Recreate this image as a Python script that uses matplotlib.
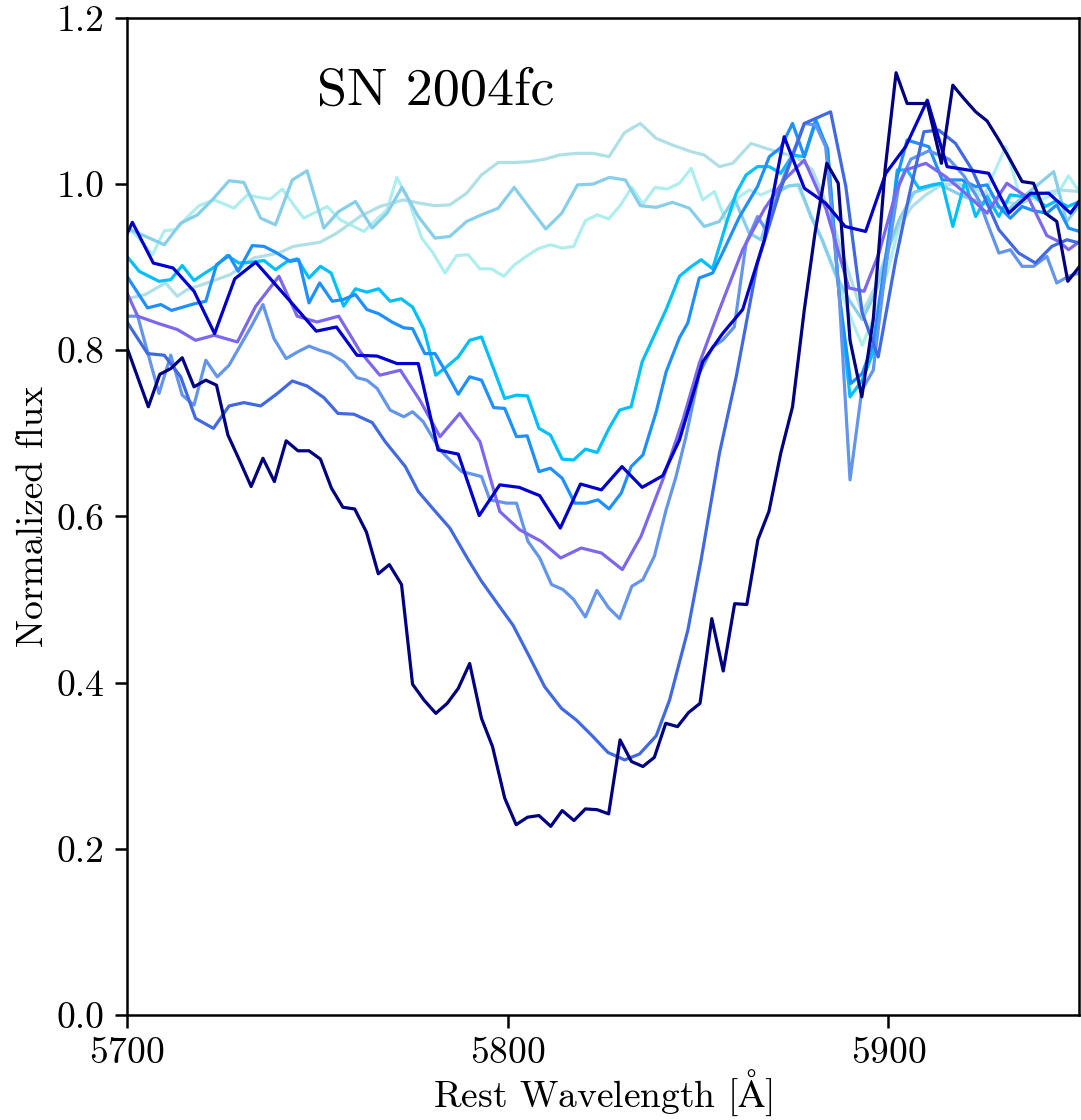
import matplotlib
matplotlib.use("Agg")
import matplotlib.pyplot as plt

plt.rcParams["font.family"] = ["cmr10", "DejaVu Serif"]
plt.rcParams["mathtext.fontset"] = "cm"
plt.rcParams["axes.formatter.use_mathtext"] = True
plt.rcParams["axes.unicode_minus"] = False

# Spectra around Na I D / He I 5876 for SN 2004fc, one array pair per epoch
wl_navy = [5700.0, 5705.6, 5708.6, 5711.5, 5714.5, 5717.6, 5720.7, 5723.5, 5726.5, 5729.6,
           5732.6, 5735.7, 5738.7, 5741.8, 5744.9, 5747.8, 5750.8, 5753.7, 5756.7, 5759.8,
           5762.9, 5766.0, 5768.9, 5772.1, 5775.0, 5778.0, 5781.1, 5784.1, 5787.0, 5790.0,
           5793.1, 5796.0, 5799.2, 5802.2, 5805.2, 5808.2, 5811.3, 5814.3, 5817.4, 5820.4,
           5823.5, 5826.5, 5829.5, 5832.5, 5835.5, 5838.5, 5841.5, 5844.6, 5847.5, 5850.5,
           5853.6, 5856.6, 5859.6, 5862.8, 5865.7, 5868.6, 5871.7, 5874.8, 5877.9, 5880.7,
           5883.8, 5886.8, 5889.9, 5893.0, 5896.0, 5899.1, 5902.0, 5904.9, 5907.5, 5910.2,
           5913.9, 5916.9, 5919.8, 5922.9, 5925.9, 5929.0, 5932.0, 5935.1, 5938.1, 5941.2,
           5944.2, 5947.1, 5950.2]
fx_navy = [0.803, 0.732, 0.771, 0.778, 0.791, 0.756, 0.764, 0.758, 0.698, 0.667,
           0.636, 0.670, 0.642, 0.691, 0.679, 0.679, 0.669, 0.634, 0.611, 0.609,
           0.581, 0.531, 0.542, 0.518, 0.398, 0.379, 0.363, 0.375, 0.393, 0.423,
           0.357, 0.323, 0.261, 0.229, 0.238, 0.240, 0.227, 0.246, 0.234, 0.248,
           0.247, 0.242, 0.331, 0.305, 0.299, 0.310, 0.351, 0.347, 0.364, 0.375,
           0.477, 0.414, 0.495, 0.494, 0.572, 0.606, 0.676, 0.732, 0.849, 0.941,
           1.025, 1.001, 0.812, 0.744, 0.837, 1.017, 1.134, 1.097, 1.097, 1.097,
           1.025, 1.119, 1.103, 1.087, 1.076, 1.053, 1.029, 1.003, 1.001, 0.965,
           0.955, 0.883, 0.901]

wl_mediumblue = [5700.0, 5701.4, 5706.9, 5712.1, 5717.6, 5723.0, 5728.3, 5733.8, 5739.0, 5744.2,
                 5749.7, 5755.0, 5760.4, 5765.7, 5770.9, 5776.5, 5781.7, 5787.0, 5792.5, 5797.9,
                 5803.0, 5808.4, 5813.8, 5819.1, 5824.6, 5830.0, 5835.3, 5840.7, 5845.1, 5851.2,
                 5856.4, 5861.7, 5867.4, 5872.6, 5877.9, 5883.5, 5888.6, 5894.0, 5899.3, 5904.5,
                 5910.2, 5915.4, 5920.8, 5926.3, 5931.6, 5937.3, 5942.1, 5947.8, 5950.2]
fx_mediumblue = [0.940, 0.954, 0.905, 0.899, 0.871, 0.820, 0.886, 0.906, 0.879, 0.852,
                 0.823, 0.828, 0.794, 0.793, 0.784, 0.784, 0.680, 0.675, 0.601, 0.638,
                 0.635, 0.625, 0.586, 0.639, 0.632, 0.660, 0.635, 0.649, 0.692, 0.786,
                 0.820, 0.849, 0.933, 1.057, 0.995, 0.977, 0.949, 0.943, 1.013, 1.045,
                 1.101, 1.021, 1.017, 1.013, 0.965, 0.989, 0.989, 0.965, 0.980]

wl_royalblue = [5700.0, 5705.4, 5709.8, 5714.1, 5718.0, 5722.7, 5726.8, 5730.7, 5735.1, 5739.5,
                5743.4, 5747.3, 5751.7, 5755.4, 5759.6, 5764.4, 5767.8, 5773.1, 5776.5, 5780.6,
                5784.8, 5789.6, 5793.1, 5797.3, 5801.4, 5805.6, 5809.7, 5814.1, 5818.0, 5822.4,
                5826.3, 5830.7, 5834.6, 5839.0, 5842.5, 5847.3, 5850.8, 5855.6, 5860.0, 5865.6,
                5871.3, 5877.9, 5884.8, 5888.8, 5893.1, 5897.3, 5901.9, 5905.6, 5909.3, 5913.2,
                5917.6, 5922.0, 5925.9, 5929.0, 5934.2, 5938.6, 5942.9, 5946.9, 5950.2]
fx_royalblue = [0.834, 0.796, 0.794, 0.768, 0.718, 0.706, 0.733, 0.737, 0.733, 0.748,
                0.763, 0.757, 0.743, 0.724, 0.723, 0.713, 0.690, 0.660, 0.630, 0.608,
                0.586, 0.548, 0.522, 0.495, 0.469, 0.432, 0.395, 0.369, 0.355, 0.335,
                0.316, 0.307, 0.314, 0.336, 0.379, 0.463, 0.548, 0.676, 0.768, 0.905,
                0.989, 1.073, 1.087, 0.997, 0.845, 0.792, 0.909, 0.990, 1.063, 1.065,
                1.049, 1.017, 0.977, 0.945, 0.917, 0.905, 0.925, 0.933, 0.929]

wl_cornflower = [5700.0, 5702.8, 5708.4, 5711.5, 5714.5, 5717.6, 5720.7, 5723.7, 5726.8, 5729.8,
                 5732.8, 5735.7, 5738.6, 5741.8, 5744.8, 5747.8, 5750.6, 5753.4, 5756.9, 5760.4,
                 5763.0, 5765.7, 5769.1, 5772.7, 5775.0, 5777.8, 5782.2, 5785.0, 5787.9, 5790.6,
                 5793.1, 5795.3, 5799.7, 5802.3, 5805.3, 5808.4, 5811.5, 5814.5, 5817.3, 5820.4,
                 5823.4, 5826.5, 5829.4, 5832.6, 5835.5, 5838.5, 5841.6, 5844.2, 5846.8, 5850.3,
                 5853.8, 5856.4, 5859.5, 5862.6, 5865.6, 5867.8, 5872.6, 5877.9, 5880.9, 5883.5,
                 5887.0, 5889.9, 5893.0, 5896.0, 5899.3, 5902.8, 5905.9, 5910.6, 5915.9, 5919.8,
                 5923.7, 5926.3, 5929.0, 5932.0, 5935.1, 5938.1, 5941.6, 5944.2, 5947.3, 5950.2]
fx_cornflower = [0.841, 0.841, 0.748, 0.794, 0.746, 0.734, 0.788, 0.768, 0.782, 0.806,
                 0.830, 0.855, 0.814, 0.790, 0.798, 0.805, 0.800, 0.796, 0.786, 0.767,
                 0.764, 0.754, 0.728, 0.720, 0.726, 0.714, 0.680, 0.667, 0.654, 0.651,
                 0.648, 0.620, 0.616, 0.616, 0.570, 0.550, 0.518, 0.512, 0.500, 0.479,
                 0.511, 0.490, 0.477, 0.516, 0.524, 0.552, 0.608, 0.648, 0.696, 0.772,
                 0.804, 0.812, 0.828, 0.929, 0.961, 0.945, 1.010, 1.073, 1.071, 1.045,
                 0.870, 0.644, 0.752, 0.776, 0.901, 1.001, 1.030, 1.040, 1.030, 1.010,
                 0.981, 0.949, 0.917, 0.921, 0.901, 0.901, 0.913, 0.881, 0.889, 0.893]

wl_slateblue = [5700.0, 5702.8, 5708.4, 5713.2, 5718.0, 5722.9, 5729.0, 5733.8, 5739.9, 5744.7,
                5749.9, 5755.6, 5761.3, 5766.4, 5771.8, 5776.9, 5782.2, 5787.4, 5792.7, 5797.9,
                5803.1, 5808.8, 5813.9, 5819.3, 5824.6, 5830.1, 5835.0, 5840.7, 5846.0, 5850.3,
                5855.6, 5861.7, 5867.4, 5872.6, 5877.9, 5883.6, 5889.6, 5893.6, 5897.5, 5901.9,
                5904.5, 5909.8, 5915.0, 5920.2, 5925.9, 5931.1, 5936.8, 5941.6, 5944.7, 5947.3,
                5950.2]
fx_slateblue = [0.869, 0.841, 0.832, 0.825, 0.812, 0.818, 0.810, 0.853, 0.889, 0.841,
                0.834, 0.841, 0.798, 0.770, 0.776, 0.740, 0.696, 0.724, 0.690, 0.606,
                0.584, 0.570, 0.550, 0.562, 0.556, 0.536, 0.576, 0.644, 0.716, 0.784,
                0.849, 0.921, 0.970, 1.005, 1.029, 0.970, 0.875, 0.871, 0.917, 0.989,
                1.017, 1.025, 1.009, 0.989, 0.965, 1.001, 0.983, 0.938, 0.931, 0.921,
                0.931]

wl_dodger = [5700.0, 5705.4, 5708.9, 5711.7, 5714.7, 5717.7, 5720.7, 5723.5, 5726.8, 5729.2,
             5732.9, 5736.0, 5739.0, 5742.9, 5745.1, 5747.8, 5750.6, 5753.9, 5756.7, 5760.0,
             5763.0, 5766.1, 5769.6, 5772.7, 5775.0, 5778.2, 5780.9, 5784.0, 5787.0, 5790.0,
             5793.1, 5796.3, 5799.2, 5802.3, 5805.1, 5808.2, 5811.2, 5814.3, 5817.6, 5820.6,
             5823.7, 5826.6, 5829.8, 5832.4, 5835.5, 5839.0, 5841.6, 5845.1, 5847.3, 5850.3,
             5853.8, 5856.4, 5860.8, 5865.6, 5868.7, 5871.7, 5874.8, 5877.9, 5880.9, 5884.0,
             5887.0, 5890.1, 5893.1, 5896.0, 5899.3, 5902.3, 5904.9, 5910.6, 5914.1, 5919.3,
             5922.9, 5925.9, 5929.0, 5932.0, 5935.1, 5938.1, 5941.6, 5944.2, 5947.3, 5950.2]
fx_dodger = [0.889, 0.851, 0.855, 0.848, 0.852, 0.856, 0.859, 0.903, 0.914, 0.895,
             0.926, 0.925, 0.918, 0.907, 0.909, 0.857, 0.881, 0.859, 0.861, 0.867,
             0.849, 0.844, 0.834, 0.827, 0.826, 0.796, 0.796, 0.772, 0.747, 0.768,
             0.764, 0.731, 0.730, 0.696, 0.697, 0.654, 0.658, 0.646, 0.616, 0.616,
             0.620, 0.609, 0.628, 0.660, 0.674, 0.726, 0.774, 0.815, 0.833, 0.887,
             0.893, 0.917, 0.960, 0.997, 1.033, 1.044, 1.073, 1.033, 1.075, 1.043,
             0.869, 0.760, 0.772, 0.808, 0.913, 1.009, 1.053, 1.045, 1.005, 1.005,
             0.997, 0.999, 0.973, 0.959, 0.973, 0.968, 0.965, 0.975, 0.947, 0.943]

wl_deepsky = [5700.0, 5703.2, 5708.4, 5711.5, 5714.5, 5717.6, 5720.5, 5723.3, 5726.3, 5729.4,
              5732.7, 5736.0, 5739.0, 5742.1, 5744.7, 5747.8, 5750.8, 5753.6, 5756.9, 5760.0,
              5763.0, 5766.1, 5769.1, 5772.0, 5775.0, 5778.0, 5781.1, 5783.9, 5787.0, 5790.0,
              5793.1, 5796.1, 5799.2, 5802.3, 5805.2, 5808.2, 5811.2, 5814.3, 5817.3, 5820.4,
              5823.5, 5826.6, 5829.4, 5832.4, 5835.3, 5838.5, 5841.6, 5845.1, 5847.7, 5850.8,
              5853.8, 5857.7, 5860.0, 5862.6, 5865.6, 5868.7, 5871.7, 5874.8, 5877.9, 5880.9,
              5884.0, 5887.0, 5889.9, 5893.1, 5896.2, 5899.3, 5902.3, 5904.9, 5908.0, 5911.5,
              5914.1, 5916.9, 5920.1, 5922.9, 5925.9, 5929.0, 5932.0, 5935.1, 5938.1, 5941.2,
              5944.2, 5947.1, 5950.2]
fx_deepsky = [0.913, 0.895, 0.883, 0.885, 0.902, 0.884, 0.893, 0.901, 0.914, 0.905,
              0.906, 0.908, 0.897, 0.907, 0.910, 0.887, 0.901, 0.893, 0.853, 0.874,
              0.870, 0.874, 0.859, 0.862, 0.852, 0.825, 0.770, 0.780, 0.792, 0.812,
              0.816, 0.780, 0.742, 0.746, 0.745, 0.706, 0.698, 0.669, 0.668, 0.681,
              0.677, 0.706, 0.728, 0.732, 0.786, 0.818, 0.849, 0.889, 0.899, 0.909,
              0.898, 0.957, 0.989, 1.011, 1.021, 1.021, 1.013, 1.035, 1.033, 1.078,
              1.041, 0.869, 0.744, 0.764, 0.800, 0.901, 1.017, 1.017, 0.995, 0.999,
              1.001, 0.949, 1.003, 0.961, 0.985, 0.961, 0.987, 0.985, 0.987, 0.973,
              0.980, 0.973, 0.979]

wl_skyblue = [5700.0, 5704.9, 5709.8, 5714.1, 5718.5, 5722.4, 5726.8, 5730.7, 5735.1, 5739.0,
              5743.4, 5747.3, 5751.7, 5755.6, 5760.0, 5764.4, 5768.3, 5772.2, 5776.5, 5780.9,
              5784.8, 5789.2, 5793.1, 5797.5, 5801.7, 5805.8, 5810.0, 5814.2, 5818.3, 5822.4,
              5826.7, 5830.9, 5834.8, 5839.0, 5843.3, 5847.7, 5851.6, 5855.6, 5859.5, 5863.4,
              5866.5, 5870.4, 5873.9, 5876.5, 5879.6, 5882.6, 5886.2, 5889.6, 5893.1, 5896.6,
              5900.1, 5902.8, 5906.7, 5913.2, 5919.8, 5926.3, 5931.6, 5936.8, 5943.4, 5946.8,
              5950.2]
fx_skyblue = [0.947, 0.937, 0.927, 0.953, 0.963, 0.981, 1.004, 1.002, 0.959, 0.951,
              1.005, 1.016, 0.947, 0.967, 0.979, 0.947, 0.965, 0.996, 0.961, 0.935,
              0.937, 0.955, 0.963, 0.971, 0.996, 0.971, 0.946, 0.965, 0.999, 1.000,
              1.008, 1.005, 0.974, 0.972, 0.978, 0.971, 0.949, 0.955, 0.983, 0.941,
              0.933, 0.989, 0.998, 0.999, 0.961, 0.933, 0.891, 0.861, 0.837, 0.869,
              0.925, 0.957, 0.990, 1.000, 0.985, 0.975, 0.970, 0.990, 1.015, 0.955,
              0.975]

wl_powder = [5700.0, 5704.8, 5710.1, 5713.2, 5715.8, 5721.0, 5727.1, 5733.2, 5739.8, 5743.7,
             5750.7, 5755.1, 5761.2, 5766.4, 5772.6, 5776.9, 5780.9, 5784.8, 5789.2, 5793.1,
             5797.5, 5801.8, 5805.8, 5809.7, 5813.6, 5818.0, 5822.4, 5826.6, 5830.7, 5834.8,
             5839.0, 5843.3, 5848.2, 5851.6, 5855.6, 5859.1, 5863.9, 5867.8, 5872.2, 5875.7,
             5880.0, 5882.6, 5886.2, 5889.6, 5893.1, 5896.6, 5900.1, 5902.8, 5906.2, 5909.8,
             5913.2, 5917.6, 5923.7, 5929.0, 5934.2, 5939.4, 5944.7, 5950.2]
fx_powder = [0.862, 0.867, 0.881, 0.865, 0.873, 0.881, 0.891, 0.911, 0.917, 0.925,
             0.930, 0.941, 0.961, 0.973, 0.981, 0.977, 0.974, 0.975, 0.989, 1.011,
             1.026, 1.026, 1.027, 1.030, 1.035, 1.037, 1.037, 1.033, 1.062, 1.073,
             1.055, 1.047, 1.039, 1.035, 1.021, 1.025, 1.049, 1.043, 1.037, 1.033,
             1.017, 0.989, 0.941, 0.893, 0.845, 0.877, 0.925, 0.949, 0.973, 0.987,
             0.997, 1.001, 0.993, 0.981, 0.975, 0.987, 0.993, 0.991]

wl_paleturq = [5700.0, 5702.3, 5706.7, 5709.8, 5712.8, 5715.8, 5718.9, 5722.9, 5728.1, 5731.6,
               5734.6, 5737.7, 5740.8, 5743.6, 5746.4, 5749.5, 5752.6, 5756.0, 5759.1, 5762.2,
               5765.2, 5768.3, 5770.9, 5773.9, 5777.4, 5780.4, 5783.5, 5786.6, 5789.6, 5792.7,
               5795.7, 5799.0, 5801.8, 5804.9, 5807.9, 5811.2, 5814.3, 5817.3, 5820.4, 5823.5,
               5826.5, 5829.5, 5832.6, 5835.5, 5838.7, 5841.9, 5845.1, 5848.2, 5851.2, 5854.3,
               5857.3, 5860.4, 5863.4, 5866.5, 5869.5, 5873.1, 5876.1, 5881.8, 5886.2, 5889.6,
               5893.1, 5896.6, 5900.1, 5902.8, 5906.7, 5911.9, 5918.5, 5925.0, 5930.8, 5934.2,
               5939.4, 5944.7, 5947.3, 5950.2]
fx_paleturq = [0.947, 0.939, 0.915, 0.944, 0.945, 0.960, 0.974, 0.981, 0.971, 0.987,
               0.984, 0.982, 0.994, 0.976, 0.959, 0.966, 0.973, 0.957, 0.950, 0.943,
               0.956, 0.969, 1.008, 0.981, 0.935, 0.917, 0.893, 0.914, 0.915, 0.898,
               0.898, 0.889, 0.903, 0.913, 0.922, 0.927, 0.923, 0.925, 0.956, 0.963,
               0.958, 0.974, 0.996, 0.976, 0.996, 0.994, 1.001, 1.019, 0.981, 0.991,
               0.955, 0.983, 0.993, 0.987, 0.993, 0.997, 0.999, 0.941, 0.889, 0.845,
               0.806, 0.845, 0.901, 0.949, 0.990, 1.000, 1.000, 0.985, 1.045, 0.990,
               0.980, 0.990, 1.010, 0.990]

series = [
    (wl_paleturq, fx_paleturq, "paleturquoise"),
    (wl_powder, fx_powder, "powderblue"),
    (wl_skyblue, fx_skyblue, "skyblue"),
    (wl_deepsky, fx_deepsky, "deepskyblue"),
    (wl_dodger, fx_dodger, "dodgerblue"),
    (wl_cornflower, fx_cornflower, "cornflowerblue"),
    (wl_slateblue, fx_slateblue, "mediumslateblue"),
    (wl_royalblue, fx_royalblue, "royalblue"),
    (wl_mediumblue, fx_mediumblue, "mediumblue"),
    (wl_navy, fx_navy, "navy"),
]

fig = plt.figure(figsize=(10.81, 11.2), dpi=100)
ax = fig.add_axes([0.1175, 0.0938, 0.8805, 0.8902])

for wl, fx, col in series:
    ax.plot(wl, fx, color=col, lw=2.3)

ax.set_xlim(5700, 5950)
ax.set_ylim(0.0, 1.2)
ax.set_xticks([5700, 5800, 5900])
ax.set_yticks([0.0, 0.2, 0.4, 0.6, 0.8, 1.0, 1.2])
ax.set_yticklabels(["0.0", "0.2", "0.4", "0.6", "0.8", "1.0", "1.2"])
ax.tick_params(labelsize=27, width=1.8, length=9, pad=7)
for sp in ax.spines.values():
    sp.set_linewidth(1.8)

ax.set_xlabel(r"Rest Wavelength [$\mathrm{\AA}$]", fontsize=27, labelpad=-2)
ax.set_ylabel("Normalized flux", fontsize=27, labelpad=5)
ax.text(0.2, 0.913, "SN 2004fc", transform=ax.transAxes, fontsize=39,
        ha="left", va="baseline")

fig.savefig("out.png", dpi=100)
